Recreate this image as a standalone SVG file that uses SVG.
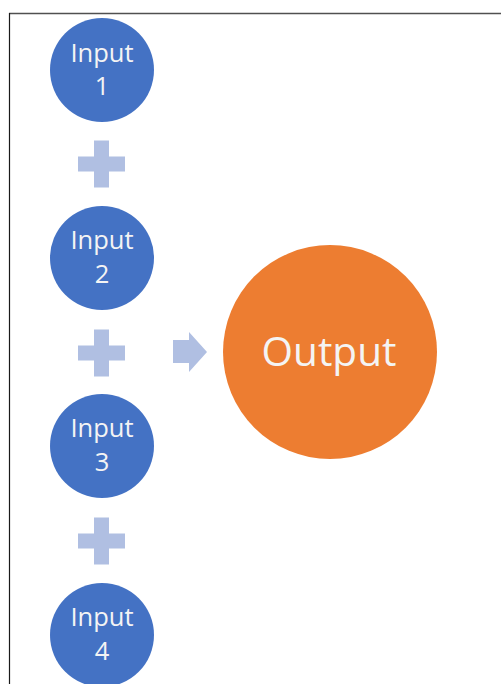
<svg xmlns="http://www.w3.org/2000/svg" width="501" height="684" viewBox="0 0 501 684">
  <defs>
    <style>
      .input { fill: #4472C4; }
      .output { fill: #ED7D31; }
      .sym { fill: #B0BFE2; }
      .label { font-family: "Open Sans", "Noto Sans", sans-serif; fill: #F4F4F4; text-anchor: middle; }
      .in-text { font-size: 25.5px; }
      .out-text { font-size: 40.5px; }
    </style>
    <path id="plus" d="M -7.5 -23.5 H 7.5 V -7.5 H 23.5 V 7.5 H 7.5 V 23.5 H -7.5 V 7.5 H -23.5 V -7.5 H -7.5 Z"/>
  </defs>
  <rect width="501" height="684" fill="#FFFFFF"/>
  <!-- frame edges -->
  <line x1="9" y1="13.5" x2="501" y2="13.5" stroke="#505050" stroke-width="1.5"/>
  <line x1="9.5" y1="13" x2="9.5" y2="684" stroke="#1A1A1A" stroke-width="1.2"/>

  <g id="input1">
    <circle class="input" cx="102" cy="70" r="52"/>
    <text class="label in-text" x="102" y="62">Input</text>
    <text class="label in-text" x="102" y="95">1</text>
  </g>
  <g id="input2">
    <circle class="input" cx="102" cy="258" r="52"/>
    <text class="label in-text" x="102" y="249">Input</text>
    <text class="label in-text" x="102" y="283">2</text>
  </g>
  <g id="input3">
    <circle class="input" cx="102" cy="446" r="52"/>
    <text class="label in-text" x="102" y="437">Input</text>
    <text class="label in-text" x="102" y="471">3</text>
  </g>
  <g id="input4">
    <circle class="input" cx="102" cy="635" r="52"/>
    <text class="label in-text" x="102" y="626">Input</text>
    <text class="label in-text" x="102" y="660">4</text>
  </g>
  <g id="output">
    <circle class="output" cx="330" cy="352" r="107"/>
    <text class="label out-text" x="329" y="366">Output</text>
  </g>

  <g id="connectors">
    <use href="#plus" class="sym" x="101.5" y="164"/>
    <use href="#plus" class="sym" x="101.5" y="353"/>
    <use href="#plus" class="sym" x="101.5" y="541"/>
    <path class="sym" d="M 173 340 H 189 V 332 L 207 352 L 189 372 V 363 H 173 Z"/>
  </g>
</svg>
